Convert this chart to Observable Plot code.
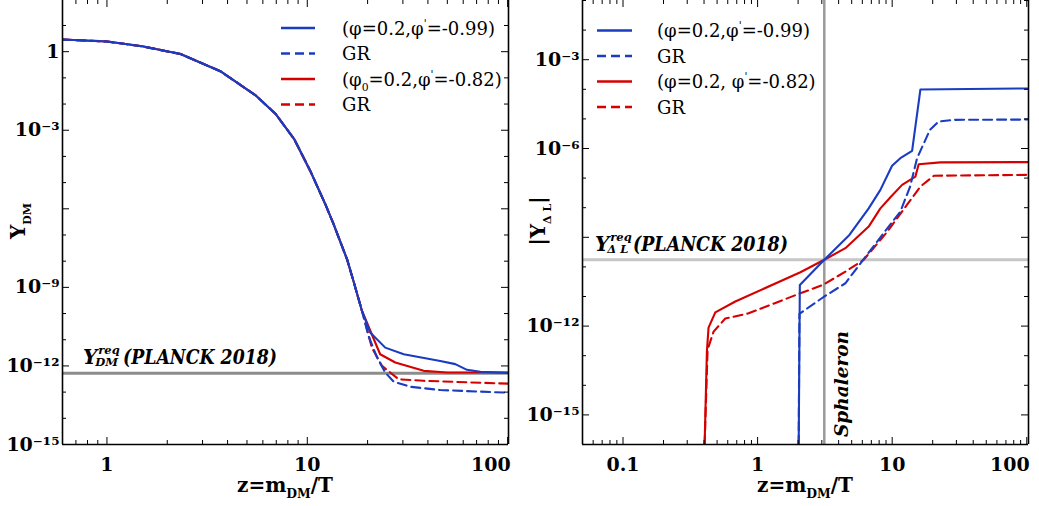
<!DOCTYPE html>
<html><head><meta charset="utf-8">
<script src="https://cdn.jsdelivr.net/npm/d3@7"></script>
<script src="https://cdn.jsdelivr.net/npm/@observablehq/plot@0.6"></script>
<style>
body{margin:0;background:#fff}
#wrap{display:flex;width:1039px;height:506px;overflow:hidden}
#wrap svg{display:block}
</style>
</head><body><div id="wrap"></div>
<script>
// ---------- data: left panel (Y_DM vs z) ----------
const zCommonL = [0.6, 1.0, 1.5, 2.33, 3.68, 5.5, 6.95, 8.6, 10.35, 12.3, 13.5, 15.8, 17.0, 18.75];
const yCommonL = [2.9, 2.45, 1.6, 0.81, 0.18, 0.022, 4.2e-3, 4.6e-4, 2.8e-5, 1.5e-6, 2.7e-7, 1.17e-8, 1.74e-9, 1.26e-10];
const zBlueSolidL = [20.6, 24.5, 30.3, 46.1, 54.8, 62.7, 73.1, 101];
const yBlueSolidL = [1.9e-11, 5.0e-12, 2.8e-12, 1.55e-12, 1.17e-12, 7.1e-13, 6.0e-13, 5.4e-13];
const zBlueDashL = [20.2, 22.3, 24.5, 27.0, 32.7, 46.1, 101];
const yBlueDashL = [1.4e-11, 2.1e-12, 5.6e-13, 2.5e-13, 1.6e-13, 1.2e-13, 9.5e-14];
const zRedSolidL = [19.5, 23.1, 27.5, 38.1, 49.8, 101];
const yRedSolidL = [6.2e-11, 2.8e-12, 1.35e-12, 6.5e-13, 5.6e-13, 5.6e-13];
const zRedDashL = [19.1, 21.0, 23.6, 28.6, 38.1, 101];
const yRedDashL = [8.1e-11, 5.0e-12, 1.0e-12, 3.1e-13, 2.7e-13, 2.1e-13];
const yReqDM = 5.2e-13;

// ---------- data: right panel (|Y_ΔL| vs z) ----------
const zBlueSolidR = [2.02, 2.06, 3.13, 4.81, 6.69, 8.17, 9.98, 11.5, 14.06, 16.2, 103];
const yBlueSolidR = [1e-16, 2.45e-11, 1.74e-10, 1.2e-9, 9.5e-9, 4.0e-8, 2.6e-7, 4.7e-7, 8.3e-7, 9.8e-5, 1.07e-4];
const zBlueDashR = [2.02, 2.045, 3.13, 4.49, 6.43, 9.2, 11.5, 13.6, 15.3, 19.1, 22.1, 28.6, 103];
const yBlueDashR = [1e-16, 2.6e-12, 1.0e-11, 2.8e-11, 2.4e-10, 2.0e-9, 7.4e-9, 5.2e-8, 4.7e-7, 4.3e-6, 8.1e-6, 9.3e-6, 9.5e-6];
const zRedSolidR = [0.404, 0.42, 0.432, 0.485, 0.683, 2.08, 3.13, 4.49, 6.69, 8.17, 9.82, 11.85, 14.87, 15.74, 22.8, 103];
const yRedSolidR = [1e-16, 1.38e-13, 8.9e-13, 2.9e-12, 6.8e-12, 6.6e-11, 1.74e-10, 4.3e-10, 2.3e-9, 9.5e-9, 2.4e-8, 5.9e-8, 1.12e-7, 2.95e-7, 3.4e-7, 3.47e-7];
const zRedDashR = [0.404, 0.425, 0.471, 0.575, 0.857, 1.97, 3.05, 4.49, 6.14, 9.2, 12.9, 16.2, 20.4, 103];
const yRedDashR = [1e-16, 1.6e-13, 6.5e-13, 1.8e-12, 2.7e-12, 1.17e-11, 2.45e-11, 6.9e-11, 1.74e-10, 1.55e-9, 1.26e-8, 5.2e-8, 1.2e-7, 1.29e-7];
const yReqL = 1.74e-10;
const zSphaleron = 3.13;

// ---------- tick labels ----------
const xLabelsL = [1, 10, 100];
const yLabelsL = [1, 1e-3, 1e-9, 1e-12, 1e-15];
const xLabelsR = [0.1, 1, 10, 100];
const yLabelsR = [1e-3, 1e-6, 1e-12, 1e-15];

const legendL = [
  [{t:"(φ=0.2,φ"},{t:"'",sup:true},{t:"=-0.99)"}],
  [{t:"GR"}],
  [{t:"(φ"},{t:"0",sub:true},{t:"=0.2,φ"},{t:"'",sup:true},{t:"=-0.82)"}],
  [{t:"GR"}]
];
const legendR = [
  [{t:"(φ=0.2,φ"},{t:"'",sup:true},{t:"=-0.99)"}],
  [{t:"GR"}],
  [{t:"(φ=0.2, φ"},{t:"'",sup:true},{t:"=-0.82)"}],
  [{t:"GR"}]
];

const BLUE = "#1a3cc0", RED = "#d50000";
const FONT = "'DejaVu Serif', serif";
const H = 506, MT = 0, MB = 62, ML = 62;

function rows(zs, ys) { return zs.map((z, i) => ({z, Y: ys[i]})); }
const seriesStyles = [
  {key:"redDash", color: RED, dash: "9,5"},
  {key:"redSolid", color: RED, dash: null},
  {key:"blueDash", color: BLUE, dash: "9,5"},
  {key:"blueSolid", color: BLUE, dash: null}
];

const SUP = {"-":"⁻","0":"⁰","1":"¹","2":"²","3":"³","4":"⁴","5":"⁵","6":"⁶","7":"⁷","8":"⁸","9":"⁹"};
function fmtPow(d) {
  const e = Math.round(Math.log10(d));
  if (e === 0) return "1";
  return "10" + String(e).split("").map(c => SUP[c]).join("");
}
function fmtNum(d) { return d < 1 ? String(+d.toPrecision(1)) : String(d); }

function decadeTicks(domain, withMinor) {
  const out = [];
  const lo = Math.floor(Math.log10(domain[0])), hi = Math.ceil(Math.log10(domain[1]));
  for (let e = lo; e <= hi; e++) {
    for (let m = 1; m <= 9; m++) {
      const v = +(m * Math.pow(10, e)).toPrecision(3);
      if (v >= domain[0] * 0.999 && v <= domain[1] * 1.001) {
        if (withMinor ? m !== 1 : m === 1) out.push(v);
      }
    }
  }
  return out;
}

function makePanel({width, xDomain, yDomain, xLabels, yLabels, yMajorStep, data, extras}) {
  const MR = width - 508;
  const iw = width - ML - MR, ih = H - MT - MB;
  const xMinor = decadeTicks(xDomain, true);
  const xMajor = decadeTicks(xDomain, false);
  const yDec = decadeTicks(yDomain, false);
  const yMajor = yDec.filter(v => Math.round(Math.log10(v)) % yMajorStep === 0);
  const yMinor = yDec.filter(v => Math.round(Math.log10(v)) % yMajorStep !== 0);
  const tk = {stroke: "#000", strokeWidth: 1};
  const lineMarks = seriesStyles.map(s => Plot.line(data[s.key], {
    x: "z", y: "Y", stroke: s.color, strokeWidth: 2.1, strokeDasharray: s.dash, clip: true
  }));
  const xl = xLabels.slice(0, -1), xlLast = xLabels.slice(-1);
  return Plot.plot({
    width, height: H, marginLeft: ML, marginRight: MR, marginTop: MT, marginBottom: MB,
    x: {type: "log", domain: xDomain},
    y: {type: "log", domain: yDomain},
    style: {fontFamily: FONT, fontSize: "19px", fontWeight: "bold", background: "#fff", color: "#000"},
    marks: [
      ...extras,
      ...lineMarks,
      Plot.tickX(xMinor, {x: d => d, insetTop: ih - 4, ...tk}),
      Plot.tickX(xMinor, {x: d => d, insetBottom: ih - 4, ...tk}),
      Plot.tickX(xMajor, {x: d => d, insetTop: ih - 7, ...tk}),
      Plot.tickX(xMajor, {x: d => d, insetBottom: ih - 7, ...tk}),
      Plot.tickY(yMinor, {y: d => d, insetRight: iw - 4, ...tk}),
      Plot.tickY(yMinor, {y: d => d, insetLeft: iw - 4, ...tk}),
      Plot.tickY(yMajor, {y: d => d, insetRight: iw - 7, ...tk}),
      Plot.tickY(yMajor, {y: d => d, insetLeft: iw - 7, ...tk}),
      Plot.axisX(xl, {tickSize: 0, tickPadding: 13, tickFormat: fmtNum, label: null}),
      Plot.axisX(xlLast, {tickSize: 0, tickPadding: 13, tickFormat: fmtNum, label: null, textAnchor: "end", dx: 3}),
      Plot.axisY(yLabels, {tickSize: 0, tickPadding: 3, tickFormat: fmtPow, label: null}),
      Plot.ruleX([xDomain[0], xDomain[1]], {stroke: "#000", strokeWidth: 1.6}),
      Plot.ruleY([yDomain[0]], {stroke: "#000", strokeWidth: 1.6})
    ]
  });
}

function richText(g, segs, {x, y, size, weight = "normal", style = "normal", anchor = "start", transform}) {
  const t = g.append("text").attr("x", x).attr("y", y)
    .attr("font-family", FONT).attr("font-size", size).attr("font-weight", weight)
    .attr("font-style", style).attr("text-anchor", anchor).attr("fill", "#000");
  if (transform) t.attr("transform", transform);
  let shift = 0;
  for (const s of segs) {
    const target = s.sup ? -size * 0.42 : s.sub ? size * 0.28 : 0;
    const ts = t.append("tspan").text(s.t).attr("dy", target - shift);
    if (s.sup || s.sub) ts.attr("font-size", size * (s.scale || 0.6));
    shift = target;
  }
  return t;
}

function stackedLabel(g, {x, y, base, sup, sub, rest, size, subSize, restStart, restLength}) {
  const mk = (txt, xx, yy, sz) => g.append("text").attr("x", xx).attr("y", yy)
    .attr("font-family", FONT).attr("font-size", sz).attr("font-weight", "bold")
    .attr("font-style", "italic").attr("text-anchor", "start").attr("fill", "#000").text(txt);
  const b = mk(base, x, y, size);
  const wb = b.node().getComputedTextLength();
  mk(sup, x + wb + 1, y - size * 0.5, subSize);
  mk(sub, x + wb - 2, y + size * 0.1, subSize);
  mk(rest, x + restStart, y, size)
    .attr("textLength", restLength).attr("lengthAdjust", "spacingAndGlyphs");
}

function legend(g, items, styles, {x1, x2, xt, y0, step}) {
  items.forEach((segs, i) => {
    const y = y0 + i * step;
    g.append("line").attr("x1", x1).attr("x2", x2).attr("y1", y).attr("y2", y)
      .attr("stroke", styles[i].color).attr("stroke-width", 2.4)
      .attr("stroke-dasharray", styles[i].dash);
    richText(g, segs, {x: xt, y: y + 6.5, size: 18});
  });
}

const legendStyles = [
  {color: BLUE, dash: null}, {color: BLUE, dash: "9,5"},
  {color: RED, dash: null}, {color: RED, dash: "9,5"}
];

const wrap = document.getElementById("wrap");

// ---- left panel ----
const dataL = {
  blueSolid: rows(zCommonL.concat(zBlueSolidL), yCommonL.concat(yBlueSolidL)),
  blueDash: rows(zCommonL.concat(zBlueDashL), yCommonL.concat(yBlueDashL)),
  redSolid: rows(zCommonL.concat(zRedSolidL), yCommonL.concat(yRedSolidL)),
  redDash: rows(zCommonL.concat(zRedDashL), yCommonL.concat(yRedDashL))
};
const left = makePanel({
  width: 520, xDomain: [0.6, 101], yDomain: [1e-15, 90],
  xLabels: xLabelsL, yLabels: yLabelsL, yMajorStep: 3, data: dataL,
  extras: [Plot.ruleY([yReqDM], {stroke: "#8c8c8c", strokeWidth: 3})]
});
wrap.appendChild(left);

// ---- right panel ----
const dataR = {
  blueSolid: rows(zBlueSolidR, yBlueSolidR),
  blueDash: rows(zBlueDashR, yBlueDashR),
  redSolid: rows(zRedSolidR, yRedSolidR),
  redDash: rows(zRedDashR, yRedDashR)
};
const right = makePanel({
  width: 519, xDomain: [0.05, 103], yDomain: [1e-16, 0.1],
  xLabels: xLabelsR, yLabels: yLabelsR, yMajorStep: 3, data: dataR,
  extras: [
    Plot.ruleY([yReqL], {stroke: "#c6c6c6", strokeWidth: 3}),
    Plot.ruleX([zSphaleron], {stroke: "#9a9a9a", strokeWidth: 2.5})
  ]
});
wrap.appendChild(right);

// ---- annotations ----
function axisTitles(svg, yLabelSegs) {
  const g = d3.select(svg);
  const cx = (ML + 508) / 2;
  richText(g, [{t:"z=m"},{t:"DM",sub:true,scale:0.62},{t:"/T"}],
    {x: cx, y: 492, size: 20, weight: "bold", anchor: "middle"});
  richText(g, yLabelSegs, {x: 0, y: 0, size: 20, weight: "bold", anchor: "middle",
    transform: `translate(25,221) rotate(-90)`});
}

{
  const g = d3.select(left);
  const ys = left.scale("y");
  axisTitles(left, [{t:"Y"},{t:"DM",sub:true,scale:0.55}]);
  stackedLabel(g, {x: 83, y: ys.apply(yReqDM) - 9, base: "Y", sup: "req", sub: "DM",
    rest: "(PLANCK 2018)", size: 20, subSize: 11.5, restStart: 40, restLength: 154});
  legend(g, legendL, legendStyles, {x1: 281, x2: 315, xt: 342, y0: 28, step: 25.5});
}
{
  const g = d3.select(right);
  const ys = right.scale("y"), xs = right.scale("x");
  axisTitles(right, [{t:"|Y"},{t:"Δ L",sub:true,scale:0.55},{t:"|"}]);
  stackedLabel(g, {x: 75, y: ys.apply(yReqL) - 8, base: "Y", sup: "req", sub: "Δ L",
    rest: "(PLANCK 2018)", size: 20, subSize: 11.5, restStart: 38, restLength: 155});
  g.append("text").attr("transform", `translate(${xs.apply(zSphaleron) + 24},${H - MB - 7}) rotate(-90)`)
    .attr("font-family", FONT).attr("font-size", 18.5).attr("font-weight", "bold")
    .attr("font-style", "italic").attr("text-anchor", "start").attr("fill", "#000").text("Sphaleron");
  legend(g, legendR, legendStyles, {x1: 77, x2: 112, xt: 137, y0: 30.5, step: 25.5});
}
</script>
</body></html>
